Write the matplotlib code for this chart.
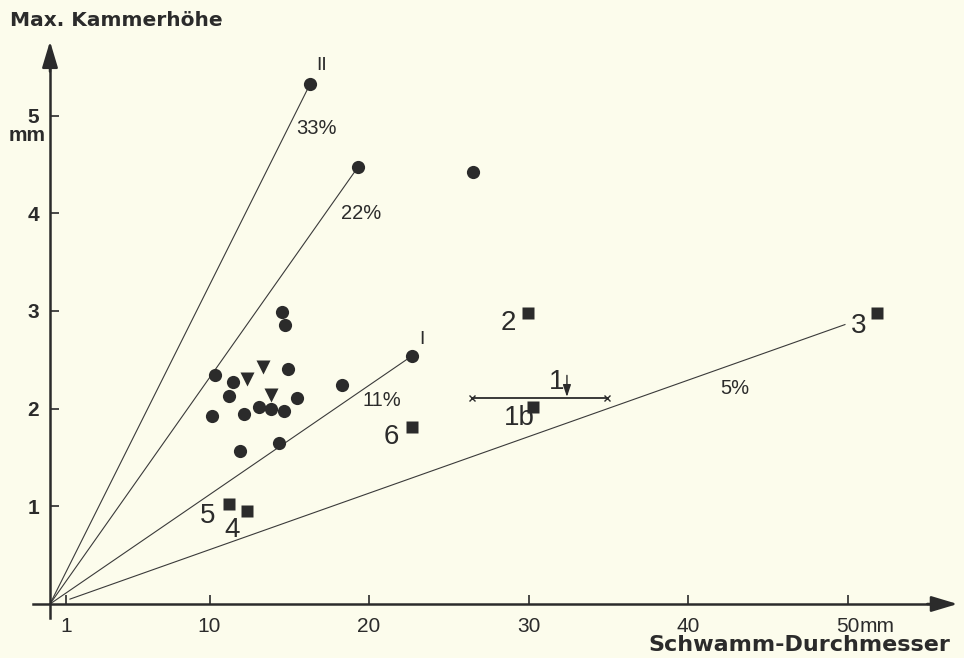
import matplotlib
matplotlib.use("Agg")
import matplotlib.pyplot as plt

# sponge diameter (mm) vs. max chamber height (mm)
circle_x = [16.3, 19.3, 26.5, 22.7,
            14.53, 14.73, 10.34, 11.49, 14.90, 11.24, 18.33, 15.47,
            10.14, 12.18, 13.10, 13.86, 14.69, 11.93, 14.36]
circle_y = [5.32, 4.47, 4.42, 2.54,
            2.99, 2.86, 2.34, 2.27, 2.41, 2.13, 2.24, 2.11,
            1.92, 1.94, 2.02, 2.00, 1.98, 1.57, 1.65]

tri_x = [13.34, 12.37, 13.84]
tri_y = [2.43, 2.30, 2.14]

sq_x = [29.97, 30.28, 22.70, 11.22, 12.35, 51.85]
sq_y = [2.98, 2.02, 1.81, 1.02, 0.95, 2.98]
sq_labels = ["2", "1b", "6", "5", "4", "3"]

# ratio lines (height / diameter)
ray_labels = ["33%", "22%", "11%", "5%"]
ray_x0 = [0, 0, 0, 1.25]
ray_y0 = [0, 0, 0, 0.05]
ray_x1 = [16.3, 19.3, 22.7, 49.84]
ray_y1 = [5.32, 4.47, 2.54, 2.86]

# range of specimen 1
range1_x = [26.46, 34.92]
range1_y = 2.11
range1_mark = 32.41

x_ticks = [1, 10, 20, 30, 40, 50]
x_ticklabels = ["1", "10", "20", "30", "40", "50"]
y_ticks = [1, 2, 3, 4, 5]
y_ticklabels = ["1", "2", "3", "4", "5"]

# layout
bg = "#fcfcec"
ink = "#2b2b2b"
sq_offsets = [(-20, -10), (-14, -11), (-21, -10), (-21, -12), (-15, -19), (-18, -13)]
ray_label_pos = [(16.7, 4.87), (19.5, 4.00), (20.8, 2.08), (42.95, 2.21)]

plt.rcParams['font.family'] = ['Liberation Sans', 'DejaVu Sans']

fig = plt.figure(figsize=(9.64, 6.58), dpi=100, facecolor=bg)
ax = fig.add_axes([0, 0, 1, 1], facecolor=bg)
ax.set_xlim(-50 / 15.95, (964 - 50) / 15.95)
ax.set_ylim(-(658 - 604) / 97.7, 604 / 97.7)

# axes through the origin
for side in ['top', 'right']:
    ax.spines[side].set_visible(False)
ax.spines['left'].set_position(('data', 0))
ax.spines['bottom'].set_position(('data', 0))
ax.spines['left'].set_bounds(-0.14, 5.55)
ax.spines['bottom'].set_bounds(-1.07, 55.3)
for side in ['left', 'bottom']:
    ax.spines[side].set_linewidth(1.8)
    ax.spines[side].set_color(ink)

ax.annotate('', xy=(0, 5.76), xytext=(0, 5.45),
            arrowprops=dict(arrowstyle='-|>,head_length=1,head_width=0.3',
                            mutation_scale=16, color=ink, lw=1.8,
                            shrinkA=0, shrinkB=0))
ax.annotate('', xy=(56.9, 0), xytext=(55.0, 0),
            arrowprops=dict(arrowstyle='-|>,head_length=1,head_width=0.3',
                            mutation_scale=16, color=ink, lw=1.8,
                            shrinkA=0, shrinkB=0))

ax.set_xticks(x_ticks)
ax.set_xticklabels(x_ticklabels)
ax.set_yticks(y_ticks)
ax.set_yticklabels(y_ticklabels, fontweight='bold')
ax.tick_params(axis='x', direction='in', length=6.5, width=1.2, pad=9,
               labelsize=15, colors=ink)
ax.tick_params(axis='y', direction='in', length=6.5, width=1.2, pad=8,
               labelsize=15, colors=ink)
ax.text(50.75, -0.235, "mm", fontsize=15, color=ink, ha='left', va='center')
ax.text(-1.45, 4.80, "mm", fontsize=15, fontweight='bold', color=ink,
        ha='center', va='center')

# ratio lines
for x0, y0, x1, y1 in zip(ray_x0, ray_y0, ray_x1, ray_y1):
    ax.plot([x0, x1], [y0, y1], color="#3a3a3a", lw=0.8, zorder=2)
for lab, (lx, ly) in zip(ray_labels, ray_label_pos):
    ax.text(lx, ly, lab, fontsize=14.5, color=ink, ha='center', va='center')

# points
ax.plot(circle_x, circle_y, 'o', ms=9.5, color=ink, mec='none', zorder=3)
ax.plot(tri_x, tri_y, 'v', ms=10.5, color=ink, mec='none', zorder=3)
ax.plot(sq_x, sq_y, 's', ms=8.5, color=ink, mec='none', zorder=3)
for lab, x, y, off in zip(sq_labels, sq_x, sq_y, sq_offsets):
    ax.annotate(lab, (x, y), xytext=off, textcoords='offset pixels',
                fontsize=20, color=ink, ha='center', va='center')

ax.text(17.05, 5.51, "II", fontsize=14, color=ink, ha='center', va='center')
ax.text(23.32, 2.71, "I", fontsize=14, color=ink, ha='center', va='center')

# range bar for specimen 1
ax.plot(range1_x, [range1_y, range1_y], color=ink, lw=1.3, zorder=2)
ax.plot(range1_x, [range1_y, range1_y], 'x', ms=4.5, mew=1.0, color=ink)
ax.annotate('', xy=(range1_mark, range1_y + 0.01), xytext=(range1_mark, range1_y + 0.23),
            arrowprops=dict(arrowstyle='-|>,head_length=0.6,head_width=0.2',
                            mutation_scale=12, color=ink, lw=1.0,
                            shrinkA=0, shrinkB=0))
ax.text(31.75, 2.27, "1", fontsize=20, color=ink, ha='center', va='center')

fig.text(10 / 964, 1 - 21 / 658, "Max. Kammerhöhe", fontsize=14.5,
         fontweight='bold', family='DejaVu Sans', color=ink,
         ha='left', va='center')
fig.text(950 / 964, 1 - 645 / 658, "Schwamm-Durchmesser", fontsize=16,
         fontweight='bold', family='DejaVu Sans', color=ink,
         ha='right', va='center')

fig.savefig("out.png", dpi=100, facecolor=bg)
